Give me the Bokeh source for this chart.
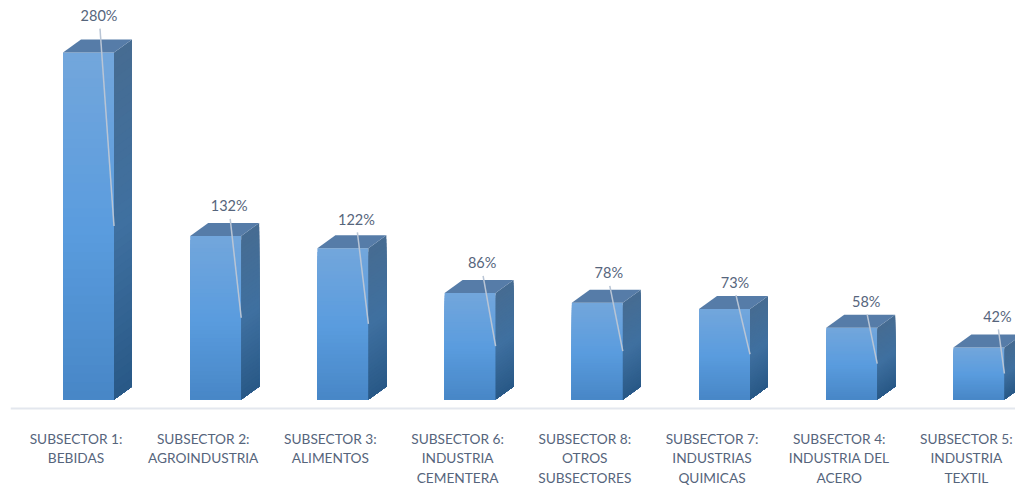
from bokeh.plotting import figure
from bokeh.models import Range1d, FixedTicker
from bokeh.core.properties import value
from bokeh.embed import file_html
from bokeh.resources import INLINE

categories = ["SUBSECTOR 1:\nBEBIDAS", "SUBSECTOR 2:\nAGROINDUSTRIA", "SUBSECTOR 3:\nALIMENTOS",
              "SUBSECTOR 6:\nINDUSTRIA\nCEMENTERA", "SUBSECTOR 8:\nOTROS\nSUBSECTORES",
              "SUBSECTOR 7:\nINDUSTRIAS\nQUIMICAS", "SUBSECTOR 4:\nINDUSTRIA DEL\nACERO",
              "SUBSECTOR 5:\nINDUSTRIA\nTEXTIL"]
values = [280, 132, 122, 86, 78, 73, 58, 42]
value_labels = ["280%", "132%", "122%", "86%", "78%", "73%", "58%", "42%"]

# layout, in screen pixels converted through the scales below
PX_X = 127.2
PX_Y = 1.239
W, H, LEFT, BASE_Y, AXIS_Y = 1015, 486, 10, 399, 408
x0 = (LEFT - 75.5) / PX_X
x1 = (W - 75.5) / PX_X
y0 = -(H - BASE_Y) / PX_Y
y1 = BASE_Y / PX_Y

BAR_L, BAR_R = 12.5 - 25.5, 12.5 + 25.5
DX, DY = 18, 13
STEPS = 40
label_dx = [23, 26, 26, 24.5, 24, 23, 27, 31]
label_dy = [37, 30, 29, 30, 30, 27, 26, 31]


def lerp(a, b, t):
    return tuple(int(round(a[i] + (b[i] - a[i]) * t)) for i in range(3))


def ramp(stops, t):
    n = len(stops) - 1
    k = min(int(t * n), n - 1)
    return "#%02x%02x%02x" % lerp(stops[k], stops[k + 1], t * n - k)


FRONT = [(0x72, 0xA6, 0xDC), (0x5A, 0x9C, 0xDE), (0x47, 0x86, 0xC6)]
SIDE = [(0x46, 0x6C, 0x92), (0x3F, 0x70, 0xA0), (0x28, 0x58, 0x86)]
TOP = "#567ca8"
TEXT = "#56657c"

p = figure(width=W, height=H, output_backend="svg", toolbar_location=None,
           x_range=Range1d(x0, x1), y_range=Range1d(y0, y1),
           min_border_left=LEFT, min_border_right=0, min_border_top=0, min_border_bottom=0,
           outline_line_color=None, background_fill_color="white", border_fill_color="white")
p.grid.visible = False
p.yaxis.visible = False
ax = p.xaxis[0]
ax.fixed_location = -(AXIS_Y - BASE_Y) / PX_Y
ax.ticker = FixedTicker(ticks=list(range(len(categories))))
ax.major_label_overrides = {i: c for i, c in enumerate(categories)}
ax.axis_line_color = "#e3e7ee"
ax.axis_line_width = 2
ax.major_tick_line_color = None
ax.minor_tick_line_color = None
ax.major_label_standoff = 15
ax.major_label_text_font = "Lato"
ax.major_label_text_font_size = "13.7px"
ax.major_label_text_color = TEXT
ax.major_label_text_line_height = 1.16

for i, v in enumerate(values):
    l = i + BAR_L / PX_X
    r = i + BAR_R / PX_X
    dx = DX / PX_X
    dy = DY / PX_Y
    # gradient: each strip runs to the foot of the bar and is overpainted by the next one
    for s in range(STEPS):
        t0 = s / STEPS
        yt = v * (1 - t0)
        p.quad(left=[l], right=[r], top=[yt], bottom=[0],
               fill_color=ramp(FRONT, t0), line_color=None)
        p.patch([r, r + dx, r + dx, r], [yt, yt + dy, dy, 0],
                fill_color=ramp(SIDE, t0), line_color=None)
    p.patch([l, l + dx, r + dx, r], [v, v + dy, v + dy, v], fill_color=TOP, line_color=None)
    lx = i + label_dx[i] / PX_X
    # leader line: from just under the label to the mid-height of the front face
    p.line([lx + 1 / PX_X, r], [v + (label_dy[i] - 13) / PX_Y, v / 2], line_color="#b9c5d5", line_width=1.5)

p.text(x=[i + label_dx[i] / PX_X for i in range(len(values))],
       y=[v + label_dy[i] / PX_Y for i, v in enumerate(values)],
       text=value_labels, text_align="center", text_baseline="middle",
       text_font=value("Lato"), text_font_size="14.5px", text_color=TEXT)

open("out.html", "w").write(file_html(p, INLINE))
